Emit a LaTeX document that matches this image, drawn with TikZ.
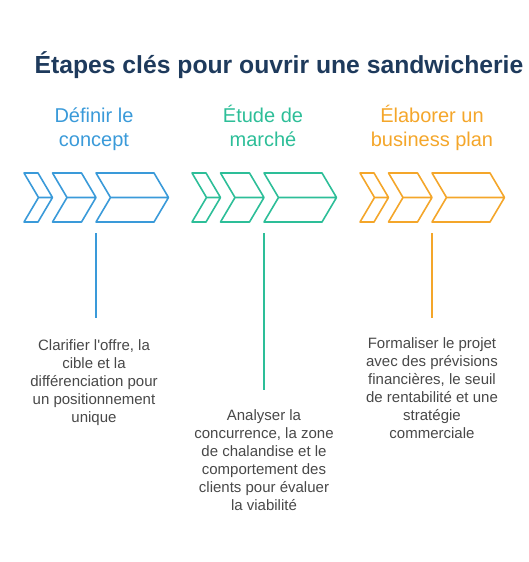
\documentclass[tikz,border=0pt]{standalone}
\usepackage{fontspec}
\setmainfont{Liberation Sans}
\usepackage{tikz}
\usetikzlibrary{positioning}
\definecolor{stepblue}{HTML}{3A9AD9}
\definecolor{stepgreen}{HTML}{2DBE98}
\definecolor{steporange}{HTML}{F4A62A}
\definecolor{titleblue}{HTML}{1E3A5C}
\definecolor{bodygray}{HTML}{484848}
\tikzset{
        chev/.style={draw=#1, line width=1.6pt, line join=round}, % outline of one chevron
        stem/.style={draw=#1, line width=1.6pt}, % vertical line under a group
        heading/.style={text=#1, font=\fontsize{20}{24}\selectfont, align=center, anchor=base, inner sep=0pt}, % coloured step name, placed by its last line
        desc/.style={text=bodygray, font=\fontsize{15}{18}\selectfont, align=center, anchor=base, inner sep=0pt}, % grey explanation, placed by its last line
}
\begin{document}
\begin{tikzpicture}[x=1pt, y=-1pt]
      \useasboundingbox (0,0) rectangle (528,562);
      \node[text=titleblue, font=\bfseries\fontsize{24.7}{29}\selectfont, anchor=base, inner sep=0pt] (title) at (279,73) {Étapes clés pour ouvrir une sandwicherie};
      % the three chevron groups
      \foreach \x/\col in {24/stepblue, 192/stepgreen, 360/steporange} {
         \foreach \s/\e in {0/14, 28.5/57.5, 72/130}
            \draw[chev=\col] ({\x+\s+14.5},197.5) -- ({\x+\s},173) -- ({\x+\e},173) -- ({\x+\e+14.5},197.5)
               -- ({\x+\e},222) -- ({\x+\s},222) -- cycle ({\x+\s+14.5},197.5) -- ({\x+\e+14.5},197.5);
      }
      \node[heading=stepblue] (concept) at (94,146) {Définir le\\concept};
      \node[heading=stepgreen] (marche) at (263,146) {Étude de\\marché};
      \node[heading=steporange] (plan) at (432,146) {Élaborer un\\business plan};
      \coordinate (topa) at (96,233);
      \coordinate (bota) at (96,318);
      \coordinate (topb) at (264,233);
      \coordinate (botb) at (264,390);
      \coordinate (topc) at (432,233);
      \coordinate (botc) at (432,318);
      \draw[stem=stepblue] (topa) -- (bota);
      \draw[stem=stepgreen] (topb) -- (botb);
      \draw[stem=steporange] (topc) -- (botc);
      \node[desc] (clarifier) at (94,422) {Clarifier l\textquotesingle offre, la\\cible et la\\différenciation pour\\un positionnement\\unique};
      \node[desc] (analyser) at (264,510) {Analyser la\\concurrence, la zone\\de chalandise et le\\comportement des\\clients pour évaluer\\la viabilité};
      \node[desc] (formaliser) at (432,438) {Formaliser le projet\\avec des prévisions\\financières, le seuil\\de rentabilité et une\\stratégie\\commerciale};
    \end{tikzpicture}
\end{document}
